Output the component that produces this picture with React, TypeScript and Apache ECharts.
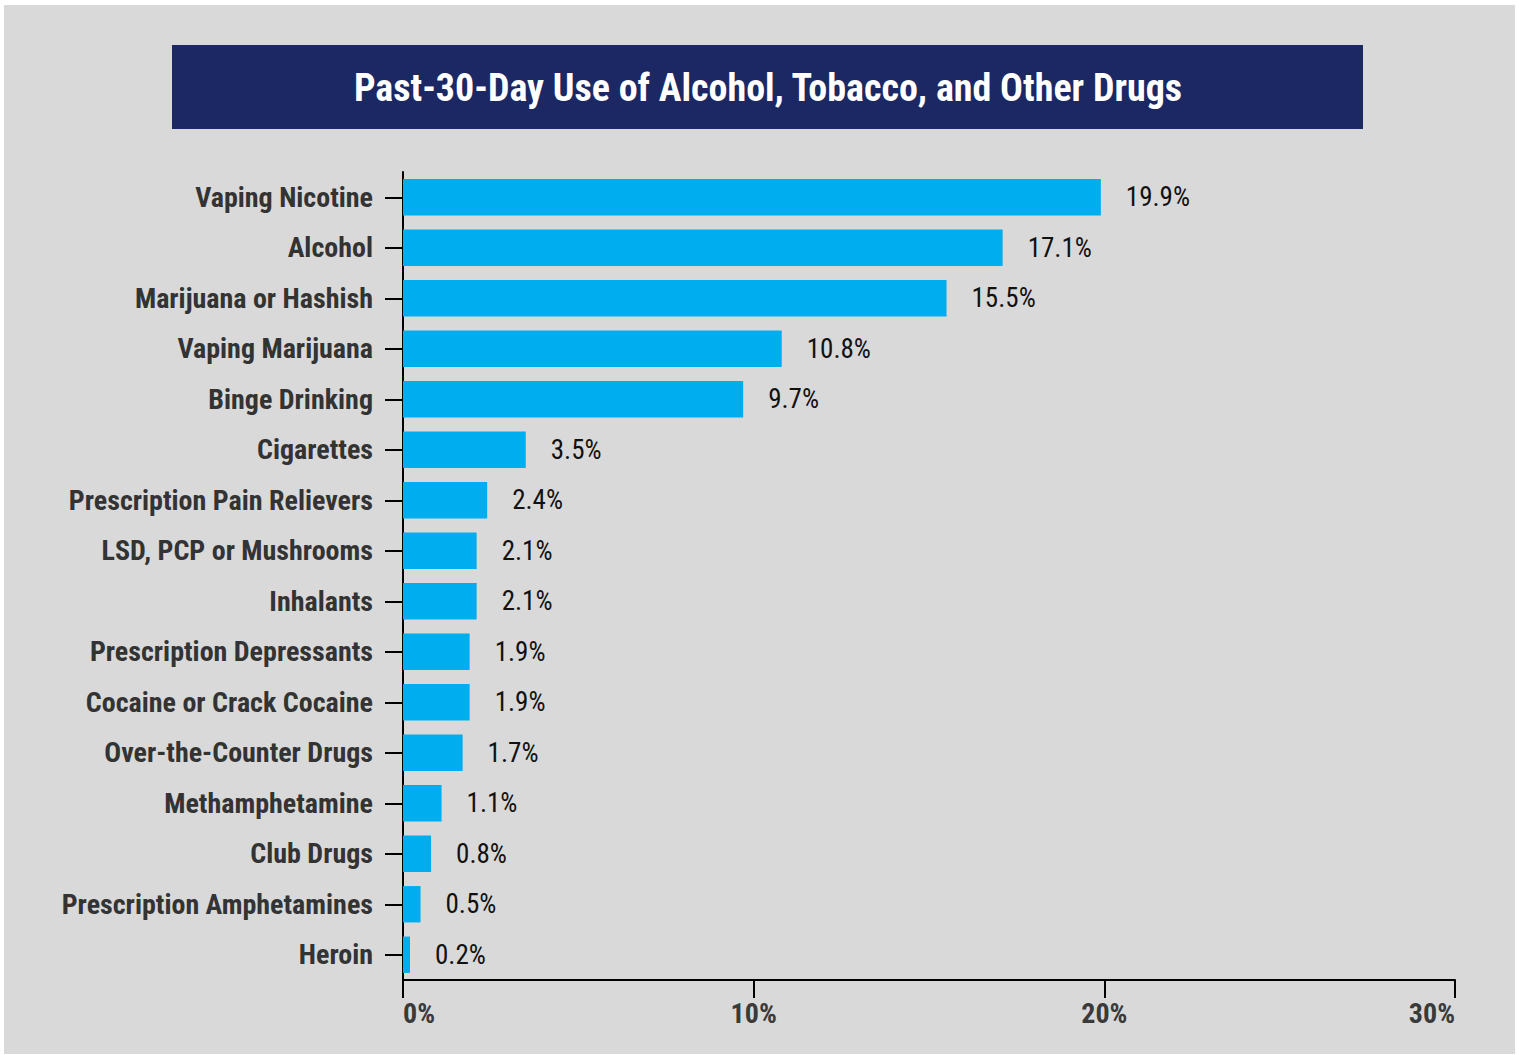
import React, { useEffect, useRef } from "react";
import * as echarts from "echarts";

const categories = [
  "Vaping Nicotine",
  "Alcohol",
  "Marijuana or Hashish",
  "Vaping Marijuana",
  "Binge Drinking",
  "Cigarettes",
  "Prescription Pain Relievers",
  "LSD, PCP or Mushrooms",
  "Inhalants",
  "Prescription Depressants",
  "Cocaine or Crack Cocaine",
  "Over-the-Counter Drugs",
  "Methamphetamine",
  "Club Drugs",
  "Prescription Amphetamines",
  "Heroin",
];
const values = [19.9, 17.1, 15.5, 10.8, 9.7, 3.5, 2.4, 2.1, 2.1, 1.9, 1.9, 1.7, 1.1, 0.8, 0.5, 0.2];
const xTicks = [0, 10, 20, 30];
const titleText = "Past-30-Day Use of Alcohol, Tobacco, and Other Drugs";

const FONT = "'Roboto Condensed', 'Liberation Sans Narrow', 'DejaVu Sans Condensed', Roboto, sans-serif";

export default function App() {
  const ref = useRef<HTMLDivElement>(null);
  useEffect(() => {
    if (!ref.current) return;
    const chart = echarts.init(ref.current, undefined, { renderer: "svg" });
    chart.setOption({
      animation: false,
      backgroundColor: "#ffffff",
      graphic: [
        { type: "rect", shape: { x: 4, y: 5, width: 1511, height: 1049 }, style: { fill: "#d9d9d9" }, z: -10 },
        { type: "rect", shape: { x: 172, y: 45, width: 1191, height: 84 }, style: { fill: "#1c2864" }, z: -5 },
        {
          type: "text",
          x: 768,
          y: 88,
          style: {
            text: titleText,
            fill: "#ffffff",
            font: `bold 38px ${FONT}`,
            align: "center",
            verticalAlign: "middle",
          },
        },
      ],
      grid: { left: 403, right: 64, top: 172, bottom: 75, containLabel: false },
      xAxis: {
        type: "value",
        min: xTicks[0],
        max: xTicks[xTicks.length - 1],
        interval: 10,
        splitLine: { show: false },
        axisLine: { show: true, lineStyle: { color: "#000", width: 2 } },
        axisTick: { show: true, length: 18, lineStyle: { color: "#000", width: 2 } },
        axisLabel: {
          formatter: (v: number) => `${v}%`,
          color: "#3a3a3a",
          fontFamily: FONT,
          fontWeight: "bold",
          fontSize: 28,
          margin: 19,
          alignMinLabel: "left",
          alignMaxLabel: "right",
        },
      },
      yAxis: {
        type: "category",
        data: categories,
        inverse: true,
        axisLine: { show: true, lineStyle: { color: "#000", width: 2 } },
        axisTick: { show: true, length: 18, alignWithLabel: true, lineStyle: { color: "#000", width: 2 } },
        axisLabel: {
          color: "#333333",
          fontFamily: FONT,
          fontWeight: "bold",
          fontSize: 28,
          margin: 30,
        },
      },
      series: [
        {
          type: "bar",
          data: values,
          barCategoryGap: "28%",
          itemStyle: { color: "#00aeef" },
          label: {
            show: true,
            position: "right",
            distance: 25,
            formatter: (p: any) => `${p.value}%`,
            color: "#111111",
            fontFamily: FONT,
            fontSize: 27,
          },
        },
      ],
    });
    return () => chart.dispose();
  }, []);
  return (
    <div
      ref={ref}
      style={{ position: "absolute", left: 0, top: 0, width: 1519, height: 1055 }}
    />
  );
}
